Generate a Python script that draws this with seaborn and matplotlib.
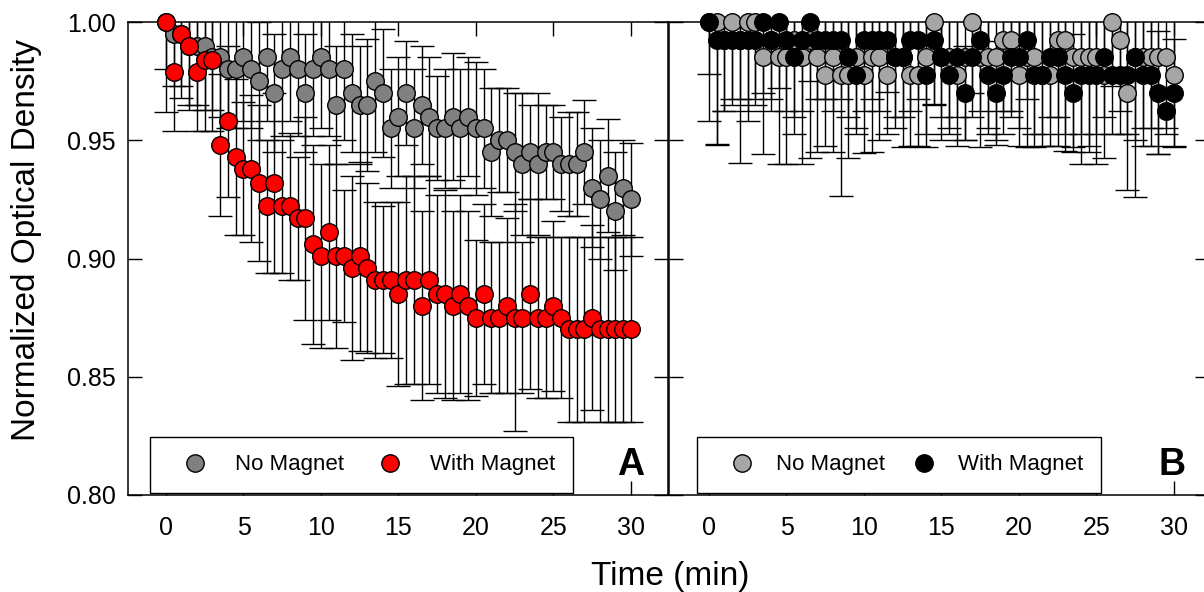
import numpy as np
import pandas as pd
import matplotlib
matplotlib.use('Agg')
import matplotlib.pyplot as plt
import seaborn as sns
from matplotlib.lines import Line2D

# sampling times (min), one reading every 30 s
time_min = np.arange(61) * 0.5

# panel A
od_a_nomag = [1.000, 0.995, 0.995, 0.990, 0.990, 0.990, 0.985, 0.985, 0.980, 0.980,
              0.985, 0.980, 0.975, 0.985, 0.970, 0.980, 0.985, 0.980, 0.970, 0.980,
              0.985, 0.980, 0.965, 0.980, 0.970, 0.965, 0.965, 0.975, 0.970, 0.955,
              0.960, 0.970, 0.955, 0.965, 0.960, 0.955, 0.955, 0.960, 0.955, 0.960,
              0.955, 0.955, 0.945, 0.950, 0.950, 0.945, 0.940, 0.945, 0.940, 0.945,
              0.945, 0.940, 0.940, 0.940, 0.945, 0.930, 0.925, 0.935, 0.920, 0.930,
              0.925]
err_a_nomag = [0.020, 0.022, 0.022, 0.025, 0.025, 0.027, 0.022, 0.025, 0.025, 0.025,
               0.027, 0.025, 0.025, 0.027, 0.025, 0.028, 0.027, 0.028, 0.025, 0.028,
               0.030, 0.028, 0.025, 0.030, 0.025, 0.025, 0.028, 0.030, 0.027, 0.025,
               0.025, 0.022, 0.025, 0.025, 0.025, 0.022, 0.025, 0.027, 0.025, 0.025,
               0.028, 0.025, 0.027, 0.022, 0.022, 0.025, 0.030, 0.020, 0.030, 0.020,
               0.020, 0.020, 0.022, 0.022, 0.022, 0.025, 0.025, 0.024, 0.025, 0.020,
               0.024]
od_a_mag = [1.000, 0.979, 0.995, 0.990, 0.979, 0.984, 0.984, 0.948, 0.958, 0.943,
            0.938, 0.938, 0.932, 0.922, 0.932, 0.922, 0.922, 0.917, 0.917, 0.906,
            0.901, 0.911, 0.901, 0.901, 0.896, 0.901, 0.896, 0.891, 0.891, 0.891,
            0.885, 0.891, 0.891, 0.880, 0.891, 0.885, 0.885, 0.880, 0.885, 0.880,
            0.875, 0.885, 0.875, 0.875, 0.880, 0.875, 0.875, 0.885, 0.875, 0.875,
            0.880, 0.875, 0.870, 0.870, 0.870, 0.875, 0.870, 0.870, 0.870, 0.870,
            0.870]
err_a_mag = [0.038, 0.025, 0.027, 0.027, 0.025, 0.030, 0.030, 0.030, 0.032, 0.033,
             0.028, 0.031, 0.033, 0.028, 0.038, 0.028, 0.031, 0.026, 0.043, 0.042,
             0.039, 0.037, 0.039, 0.028, 0.039, 0.040, 0.036, 0.033, 0.031, 0.033,
             0.039, 0.044, 0.044, 0.040, 0.044, 0.042, 0.044, 0.040, 0.042, 0.040,
             0.033, 0.038, 0.032, 0.032, 0.037, 0.048, 0.032, 0.040, 0.034, 0.034,
             0.036, 0.034, 0.039, 0.039, 0.039, 0.039, 0.039, 0.039, 0.039, 0.039,
             0.039]

# panel B
od_b_nomag = [1.000, 1.000, 0.9925, 1.000, 0.9925, 1.000, 1.000, 0.985, 0.9925, 0.985,
              0.985, 0.9925, 0.985, 0.9925, 0.985, 0.9775, 0.985, 0.9775, 0.9775, 0.985,
              0.9775, 0.985, 0.985, 0.9775, 0.985, 0.985, 0.9775, 0.9775, 0.985, 1.000,
              0.985, 0.985, 0.9775, 0.985, 1.000, 0.985, 0.985, 0.985, 0.9925, 0.9925,
              0.9775, 0.985, 0.985, 0.9775, 0.9775, 0.9925, 0.9925, 0.985, 0.985, 0.985,
              0.985, 0.9775, 1.000, 0.9925, 0.970, 0.985, 0.985, 0.985, 0.985, 0.985,
              0.9775]
err_b_nomag = [0.042, 0.052, 0.030, 0.035, 0.052, 0.042, 0.035, 0.041, 0.030, 0.045,
               0.045, 0.040, 0.045, 0.050, 0.040, 0.030, 0.040, 0.051, 0.035, 0.030,
               0.033, 0.040, 0.035, 0.025, 0.030, 0.038, 0.030, 0.030, 0.038, 0.035,
               0.035, 0.030, 0.030, 0.035, 0.030, 0.038, 0.030, 0.035, 0.030, 0.030,
               0.030, 0.038, 0.038, 0.030, 0.030, 0.045, 0.047, 0.038, 0.045, 0.040,
               0.045, 0.035, 0.027, 0.030, 0.041, 0.035, 0.030, 0.030, 0.041, 0.030,
               0.030]
od_b_mag = [1.000, 0.9925, 0.9925, 0.9925, 0.9925, 0.9925, 0.9925, 1.000, 0.9925, 1.000,
            0.9925, 0.985, 0.9925, 1.000, 0.9925, 0.9925, 0.9925, 0.9925, 0.985, 0.9775,
            0.9925, 0.9925, 0.9925, 0.9925, 0.985, 0.985, 0.9925, 0.9925, 0.9775, 0.9925,
            0.985, 0.9775, 0.985, 0.970, 0.985, 0.9925, 0.9775, 0.970, 0.9775, 0.985,
            0.985, 0.9925, 0.9775, 0.9775, 0.985, 0.985, 0.9775, 0.970, 0.9775, 0.9775,
            0.9775, 0.985, 0.9775, 0.9775, 0.9775, 0.985, 0.9775, 0.9775, 0.970, 0.9625,
            0.970]
err_b_mag = [0.022, 0.044, 0.030, 0.025, 0.025, 0.030, 0.025, 0.030, 0.025, 0.028,
             0.030, 0.025, 0.030, 0.025, 0.025, 0.025, 0.030, 0.025, 0.025, 0.025,
             0.030, 0.025, 0.030, 0.022, 0.025, 0.025, 0.030, 0.025, 0.025, 0.027,
             0.025, 0.025, 0.025, 0.020, 0.025, 0.030, 0.025, 0.022, 0.025, 0.025,
             0.030, 0.025, 0.025, 0.025, 0.025, 0.025, 0.025, 0.025, 0.025, 0.030,
             0.025, 0.025, 0.025, 0.025, 0.025, 0.059, 0.030, 0.030, 0.026, 0.010,
             0.023]

legend_labels = ['No Magnet', 'With Magnet']
panel_letters = ['A', 'B']

sns.set_style('ticks')
plt.rcParams['font.family'] = ['Liberation Sans', 'DejaVu Sans']
plt.rcParams['text.color'] = 'black'
plt.rcParams['axes.labelcolor'] = 'black'

W, H = 1204, 592
fig = plt.figure(figsize=(W / 100, H / 100), dpi=100)
ax_a = fig.add_axes([128 / W, 97 / H, 540 / W, 473 / H])
ax_b = fig.add_axes([669 / W, 97 / H, 540 / W, 473 / H])


def draw_panel(ax, od1, err1, c1, od2, err2, c2, letter, legx, lg):
    df = pd.DataFrame({'t': time_min, 'od1': od1, 'e1': err1, 'od2': od2, 'e2': err2})
    for y, e in [('od1', 'e1'), ('od2', 'e2')]:
        ax.errorbar(df['t'], df[y], yerr=df[e], fmt='none', ecolor='black',
                    elinewidth=1.0, capsize=8.5, capthick=1.0, zorder=2)
    sns.scatterplot(x='t', y='od1', data=df, color=c1, s=160, edgecolor='black',
                    linewidth=1.0, ax=ax, clip_on=False, zorder=3)
    sns.scatterplot(x='t', y='od2', data=df, color=c2, s=160, edgecolor='black',
                    linewidth=1.0, ax=ax, clip_on=False, zorder=4)
    ax.set_ylim(0.80, 1.00)
    ax.set_xticks([0, 5, 10, 15, 20, 25, 30])
    ax.set_yticks([0.80, 0.85, 0.90, 0.95, 1.00])
    ax.set_xlabel('')
    ax.set_ylabel('')
    ax.tick_params(direction='in', length=10, width=1.0, top=True, right=True,
                   labelsize=18, colors='black')
    ax.tick_params(axis='x', pad=15)
    ax.tick_params(axis='y', pad=9)
    for s in ax.spines.values():
        s.set_visible(True)
        s.set_linewidth(1.1)
        s.set_color('black')
    handles = [Line2D([], [], marker='o', linestyle='none', markersize=12.5,
                      markerfacecolor=c, markeredgecolor='black', markeredgewidth=1.0)
               for c in (c1, c2)]
    leg = ax.legend(handles, legend_labels, loc='lower left', bbox_to_anchor=(legx, 0.004),
                    ncol=2, frameon=True, fancybox=False, edgecolor='black', framealpha=1,
                    borderpad=0.8, handlelength=2.4, handletextpad=lg[0],
                    columnspacing=lg[1], fontsize=16, borderaxespad=0)
    leg.get_frame().set_linewidth(1.0)
    for txt in leg.get_texts():
        txt.set_color('black')
    ax.text(0.931, 0.063, letter, transform=ax.transAxes, ha='center', va='center',
            fontsize=27, fontweight='bold', color='black')


draw_panel(ax_a, od_a_nomag, err_a_nomag, '#808080', od_a_mag, err_a_mag, '#ff0000',
           panel_letters[0], 0.041, (0.6, 0.9))
ax_a.set_xlim(-2.45, 32.39)

draw_panel(ax_b, od_b_nomag, err_b_nomag, '#a6a6a6', od_b_mag, err_b_mag, '#000000',
           panel_letters[1], 0.052, (0.35, 0.55))
ax_b.set_xlim(-2.58, 32.26)
ax_b.set_yticklabels([])

fig.text(670 / W, 1 - 576 / H, 'Time (min)', ha='center', va='center', fontsize=24)
fig.text(27 / W, 1 - 240 / H, 'Normalized Optical Density', rotation=90,
         ha='center', va='center', fontsize=24)

fig.savefig('out.png', dpi=100, facecolor='white')
